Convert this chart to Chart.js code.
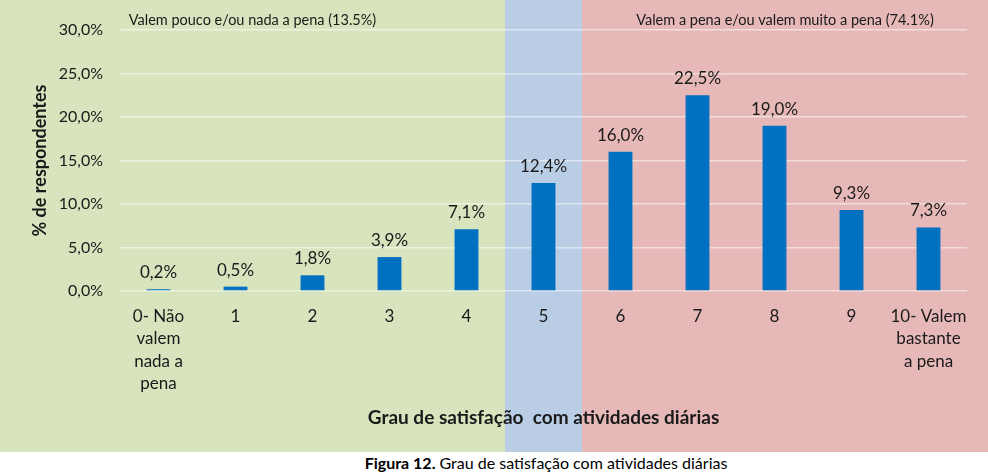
<!DOCTYPE html>
<html>
<head>
<meta charset="utf-8">
<script src="https://cdn.jsdelivr.net/npm/chart.js@4.4.1/dist/chart.umd.min.js"></script>
<style>
  body { margin: 0; background: #fff; }
  #wrap { width: 988px; height: 474px; position: relative; }
  #chartBox { width: 988px; height: 452px; position: relative; }
  #caption {
    height: 22px; line-height: 21px; box-sizing: border-box;
    padding-left: 104px; text-align: center;
    font-family: Lato, sans-serif; font-size: 16px; color: #000;
  }
</style>
</head>
<body>
<div id="wrap">
  <div id="chartBox"><canvas id="satisfactionChart"></canvas></div>
  <div id="caption"><b>Figura 12.</b> Grau de satisfação com atividades diárias</div>
</div>
<script>
// Categories and values (% of respondents)
const categories = [
    ['0- Não', 'valem', 'nada a', 'pena'], '1', '2', '3', '4', '5', '6', '7', '8', '9',
    ['10- Valem', 'bastante', 'a pena']
];
const percentages = [0.2, 0.5, 1.8, 3.9, 7.1, 12.4, 16.0, 22.5, 19.0, 9.3, 7.3];
const yTicks = [0, 5, 10, 15, 20, 25, 30];

// Shaded groups (category index ranges)
const groupFrom = [0, 5, 6];
const groupTo = [4, 5, 10];
const groupLabels = ['Valem pouco e/ou nada a pena (13.5%)', '', 'Valem a pena e/ou valem muito a pena (74.1%)'];
const groupColors = ['#D7E4BD', '#B9CDE5', '#E6B9B8'];

const FONT = 'Lato, sans-serif';
const TEXT = '#1a1a1a';

const fmt = v => v.toFixed(1).replace('.', ',') + '%';

// Background bands + group captions
const bandsPlugin = {
    id: 'bands',
    beforeDraw(chart) {
        const ctx = chart.ctx;
        const x = chart.scales.x;
        const n = categories.length;
        const edge = i => {
            if (i <= 0) return 0;
            if (i >= n) return chart.width;
            return (x.getPixelForValue(i - 1) + x.getPixelForValue(i)) / 2;
        };
        ctx.save();
        for (let g = 0; g < groupFrom.length; g++) {
            const x0 = edge(groupFrom[g]);
            const x1 = edge(groupTo[g] + 1);
            ctx.fillStyle = groupColors[g];
            ctx.fillRect(x0, 0, x1 - x0, chart.height);
            if (groupLabels[g]) {
                ctx.fillStyle = TEXT;
                ctx.font = '14.5px ' + FONT;
                ctx.textAlign = 'center';
                ctx.textBaseline = 'middle';
                ctx.fillText(groupLabels[g], (x0 + x1) / 2, 20);
            }
        }
        ctx.restore();
    }
};

// Value labels above bars
const valueLabels = {
    id: 'valueLabels',
    afterDatasetsDraw(chart) {
        const ctx = chart.ctx;
        const meta = chart.getDatasetMeta(0);
        ctx.save();
        ctx.fillStyle = TEXT;
        ctx.font = '17px ' + FONT;
        ctx.textAlign = 'center';
        ctx.textBaseline = 'alphabetic';
        meta.data.forEach((bar, i) => {
            ctx.fillText(fmt(percentages[i]), bar.x, bar.y - 11);
        });
        ctx.restore();
    }
};

const ctx = document.getElementById('satisfactionChart').getContext('2d');
new Chart(ctx, {
    type: 'bar',
    data: {
        labels: categories,
        datasets: [{
            data: percentages,
            backgroundColor: '#0070C0',
            barPercentage: 0.31,
            categoryPercentage: 1.0
        }]
    },
    options: {
        responsive: true,
        maintainAspectRatio: false,
        animation: false,
        layout: { padding: { top: 30, right: 21, left: 0, bottom: 0 } },
        plugins: {
            legend: { display: false },
            tooltip: { enabled: false }
        },
        scales: {
            y: {
                min: 0,
                max: 30,
                afterBuildTicks(scale) {
                    scale.ticks = yTicks.map(v => ({ value: v }));
                },
                afterFit(scale) { scale.width = 120; },
                border: { display: false },
                grid: { color: 'rgba(255, 255, 255, 0.5)', lineWidth: 1.5, drawTicks: false },
                ticks: {
                    color: TEXT,
                    font: { family: FONT, size: 16 },
                    padding: 17,
                    callback: v => fmt(v)
                },
                title: {
                    display: true,
                    text: '% de respondentes',
                    color: TEXT,
                    font: { family: FONT, size: 18, weight: 'bold' },
                    padding: { top: 29, bottom: 0 }
                }
            },
            x: {
                afterFit(scale) { scale.height = 161; },
                border: { display: false },
                grid: { display: false, drawTicks: false },
                ticks: {
                    color: TEXT,
                    font: { family: FONT, size: 17, lineHeight: 1.32 },
                    padding: 14,
                    maxRotation: 0,
                    autoSkip: false
                },
                title: {
                    display: true,
                    text: 'Grau de satisfação  com atividades diárias',
                    color: TEXT,
                    font: { family: FONT, size: 19, weight: 'bold' },
                    padding: { top: 0, bottom: 23 }
                }
            }
        }
    },
    plugins: [bandsPlugin, valueLabels]
});
</script>
</body>
</html>
